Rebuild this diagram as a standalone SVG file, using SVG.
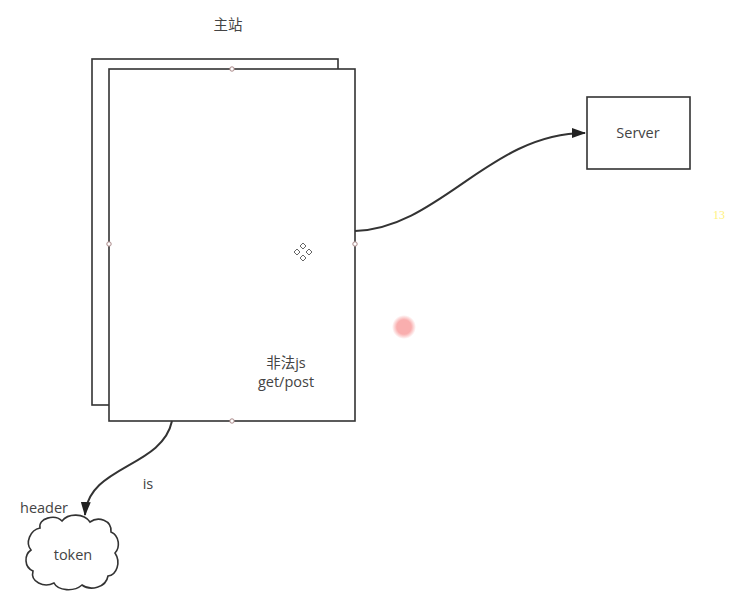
<svg xmlns="http://www.w3.org/2000/svg" width="729" height="592" viewBox="0 0 729 592">
<style>
.box{fill:#fff;stroke:#333;stroke-width:1.6}
.lbl{font-family:"Open Sans","Noto Sans CJK SC",sans-serif;font-size:14.5px;fill:#444;text-anchor:middle}
.edge{fill:none;stroke:#333;stroke-width:2}
.h{fill:#fff;stroke:#a88;stroke-width:1}
</style>
<defs>
<marker id="arrow" viewBox="0 0 14 10" refX="13" refY="5" markerWidth="14" markerHeight="10" orient="auto" markerUnits="userSpaceOnUse">
<path d="M0,0 L14,5 L0,10 z" fill="#222"/>
</marker>
<radialGradient id="dot"><stop offset="0.6" stop-color="#f9aeae"/><stop offset="1" stop-color="#f9aeae" stop-opacity="0"/></radialGradient>
</defs>
<text class="lbl" x="228" y="30">主站</text>
<g id="page-back"><rect class="box" x="92" y="59" width="246" height="346"/></g>
<g id="page-main">
<rect class="box" x="109" y="69" width="246" height="352"/>
<text class="lbl" x="286" y="368">非法js</text>
<text class="lbl" x="286" y="387">get/post</text>
<circle class="h" cx="232" cy="69" r="2.2"/>
<circle class="h" cx="109" cy="244" r="2.2"/>
<circle class="h" cx="355" cy="244" r="2.2"/>
<circle class="h" cx="232" cy="421" r="2.2"/>
</g>
<g id="server"><rect class="box" x="587" y="97" width="103" height="72"/><text class="lbl" x="638" y="138">Server</text></g>
<g id="token">
<path class="box" d="M40,528 C38,518 55,514 62,521 C68,513 84,513 90,522 C98,516 112,520 111,532 C120,536 120,548 115,553 C121,562 117,575 108,576 C106,588 90,591 82,585 C74,592 58,591 54,583 C44,588 30,582 33,571 C24,567 24,555 31,550 C25,543 30,530 40,528 Z"/>
<text class="lbl" x="73" y="560">token</text>
</g>
<g id="connectors">
<path class="edge" d="M355,231 C440,228 490,133 585,133" marker-end="url(#arrow)"/>
<path class="edge" d="M172,421 C162,468 88,465 85,515" marker-end="url(#arrow)"/>
<text class="lbl" x="148" y="489">is</text>
<text class="lbl" x="44" y="513">header</text>
</g>
<g id="cursor" fill="#fff" stroke="#666" stroke-width="1">
<path d="M303,243 l3,3 l-3,3 l-3,-3z M303,255 l3,3 l-3,3 l-3,-3z M297,249 l3,3 l-3,3 l-3,-3z M309,249 l3,3 l-3,3 l-3,-3z"/>
</g>
<circle cx="404" cy="327" r="12" fill="url(#dot)"/>
<text x="713" y="219" font-family="Liberation Serif,serif" font-size="12" fill="#fff27a">13</text>
</svg>
